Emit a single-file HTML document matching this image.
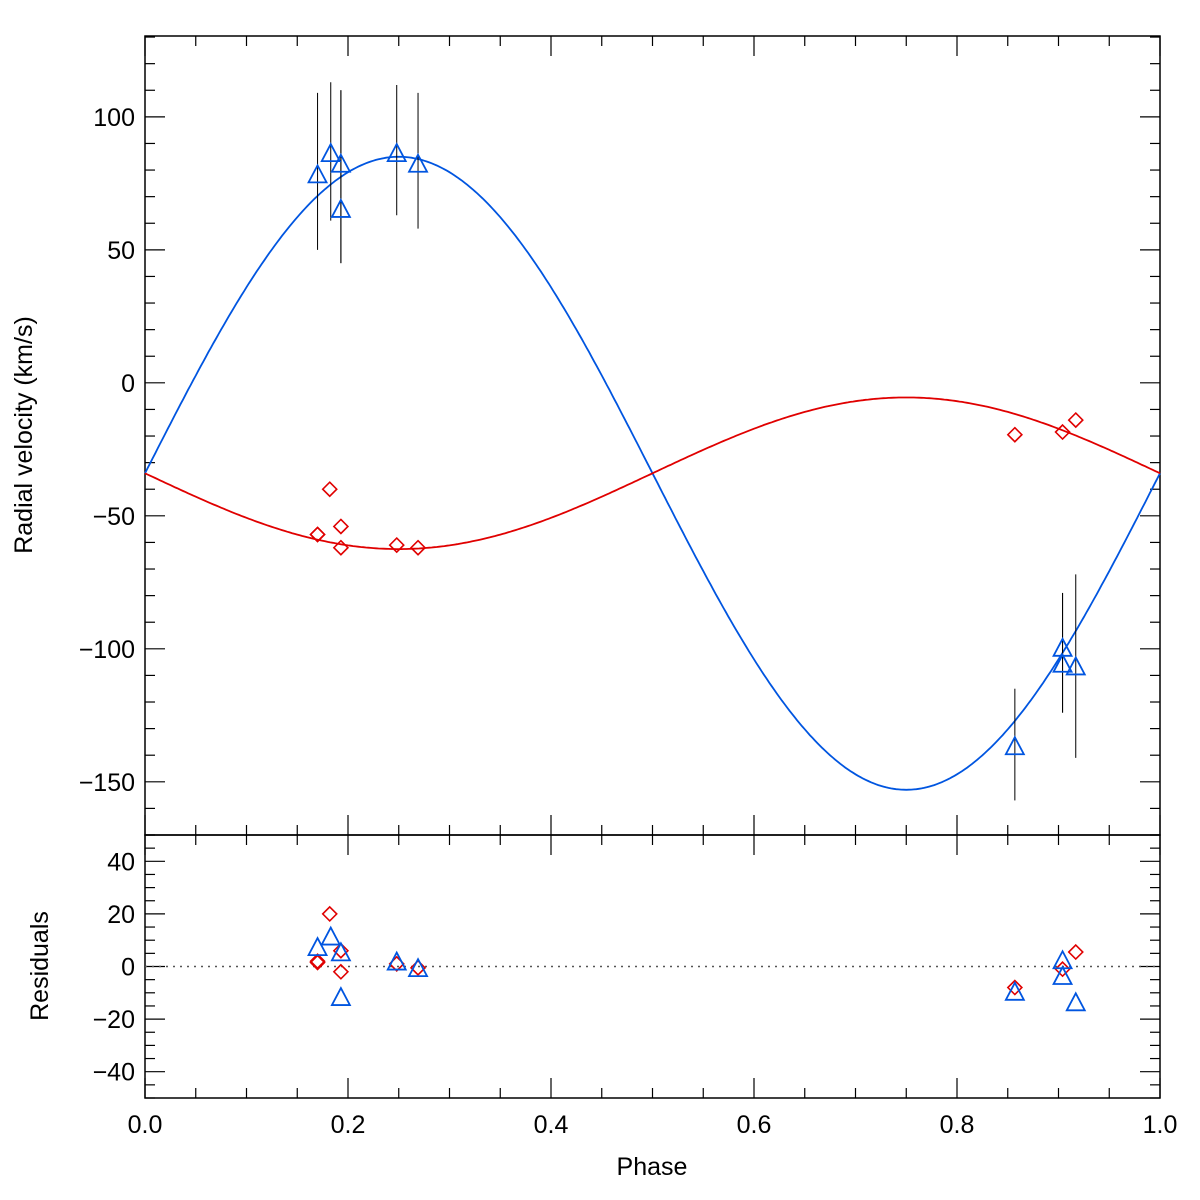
<!DOCTYPE html>
<html><head><meta charset="utf-8"><style>
body{margin:0;background:#fff}
svg text{font-family:"Liberation Sans",sans-serif;font-size:25px;fill:#000}
</style></head><body>
<svg id="c" width="1200" height="1195" viewBox="0 0 1200 1195"></svg>
<script>
const primPhase=[0.170,0.183,0.193,0.193,0.248,0.269,0.857,0.904,0.904,0.917];
const primVel=[78,86,82,65,86,82,-137,-100,-106,-107];
const primErrLo=[50,61,45,45,63,58,-157,-124,-124,-141];
const primErrHi=[109,113,110,110,112,109,-115,-79,-79,-72];
const primRes=[7,11,5,-12,1.5,-1,-10,2,-4,-14];
const secPhase=[0.170,0.170,0.182,0.193,0.193,0.248,0.269,0.857,0.904,0.917];
const secVel=[-57,-57,-40,-54,-62,-61,-62,-19.5,-18.5,-14];
const secRes=[2,1.5,20,6,-2,1,-0.5,-8,-1,5.5];
const gamma=-34, K1=119, K2=28.5;
const xTicks=[0,0.2,0.4,0.6,0.8,1.0];
const xTickLabels=["0.0","0.2","0.4","0.6","0.8","1.0"];
const yTopTicks=[100,50,0,-50,-100,-150];
const yTopLabels=["100","50","0","\u221250","\u2212100","\u2212150"];
const yBotTicks=[40,20,0,-20,-40];
const yBotLabels=["40","20","0","\u221220","\u221240"];

const svg=document.getElementById('c');const NS='http://www.w3.org/2000/svg';
const L=145,R=1160,T=36,M=835,B=1098;
const X=p=>L+p*(R-L);
const YT=v=>T+(130.4-v)/(300.4)*(M-T);
const YB=v=>M+(50-v)/100*(B-M);
function el(t,a,name,parent){const e=document.createElementNS(NS,t);for(const k in a)e.setAttribute(k,a[k]);


(parent||svg).appendChild(e);return e;}
function txt(x,y,s,anchor,name,extra){const e=el('text',Object.assign({x:x,y:y,'text-anchor':anchor},extra||{}),name);e.textContent=s;return e;}
el('rect',{x:L,y:T,width:R-L,height:M-T,fill:'none',stroke:'#000','stroke-width':1.5},'top-panel-frame');
el('rect',{x:L,y:M,width:R-L,height:B-M,fill:'none',stroke:'#000','stroke-width':1.5},'bottom-panel-frame');
for(let i=0;i<=20;i++){const p=i*0.05,x=X(p),maj=i%4===0,len=maj?20:10;
 [[T,1],[M,-1],[M,1],[B,-1]].forEach(([y,d])=>el('line',{x1:x,x2:x,y1:y,y2:y+d*len,stroke:'#000','stroke-width':1.2},'x-tick'));}
xTicks.forEach((p,i)=>txt(X(p),1133,xTickLabels[i],'middle','x-tick-label'));
for(let v=-170;v<=130;v+=10){const y=YT(v),maj=v%50===0,len=maj?20:10;
 el('line',{x1:L,x2:L+len,y1:y,y2:y,stroke:'#000','stroke-width':1.2},'y-tick');
 el('line',{x1:R,x2:R-len,y1:y,y2:y,stroke:'#000','stroke-width':1.2},'y-tick');}
yTopTicks.forEach((v,i)=>txt(L-10,YT(v)+9,yTopLabels[i],'end','y-tick-label'));
for(let v=-50;v<=50;v+=5){const y=YB(v),maj=v%20===0,len=maj?20:10;
 el('line',{x1:L,x2:L+len,y1:y,y2:y,stroke:'#000','stroke-width':1.2},'y-tick');
 el('line',{x1:R,x2:R-len,y1:y,y2:y,stroke:'#000','stroke-width':1.2},'y-tick');}
yBotTicks.forEach((v,i)=>txt(L-10,YB(v)+9,yBotLabels[i],'end','residual-tick-label'));
txt(652,1175,'Phase','middle','x-axis-title');
txt(0,0,'Radial velocity (km/s)','middle','y-axis-title',{transform:'translate(32,435) rotate(-90)'});
txt(0,0,'Residuals','middle','residual-axis-title',{transform:'translate(48,966) rotate(-90)'});
el('line',{x1:L,x2:R,y1:YB(0),y2:YB(0),stroke:'#555','stroke-width':1.5,'stroke-dasharray':'2,5'},'zero-line');
let pb='',pr='';for(let i=0;i<=400;i++){const p=i/400;pb+=(i?'L':'M')+X(p).toFixed(1)+','+YT(gamma+K1*Math.sin(2*Math.PI*p)).toFixed(1);
 pr+=(i?'L':'M')+X(p).toFixed(1)+','+YT(gamma-K2*Math.sin(2*Math.PI*p)).toFixed(1);}
el('path',{d:pb,fill:'none',stroke:'#0055e0','stroke-width':1.8},'primary-fit-curve');
el('path',{d:pr,fill:'none',stroke:'#e00000','stroke-width':1.8},'secondary-fit-curve');
function tri(x,y,name){el('path',{d:`M${x},${y-10}L${x+9},${y+7}L${x-9},${y+7}Z`,fill:'none',stroke:'#0055e0','stroke-width':1.8},name);}
function dia(x,y,name){el('path',{d:`M${x},${y-7}L${x+7},${y}L${x},${y+7}L${x-7},${y}Z`,fill:'none',stroke:'#e00000','stroke-width':1.6},name);}
primPhase.forEach((p,i)=>{el('line',{x1:X(p),x2:X(p),y1:YT(primErrLo[i]),y2:YT(primErrHi[i]),stroke:'#000','stroke-width':1},'error-bar');});
secPhase.forEach((p,i)=>dia(X(p),YT(secVel[i]),'secondary-point'));
primPhase.forEach((p,i)=>tri(X(p),YT(primVel[i]),'primary-point'));
secPhase.forEach((p,i)=>dia(X(p),YB(secRes[i]),'secondary-residual'));
primPhase.forEach((p,i)=>tri(X(p),YB(primRes[i]),'primary-residual'));
</script></body></html>
